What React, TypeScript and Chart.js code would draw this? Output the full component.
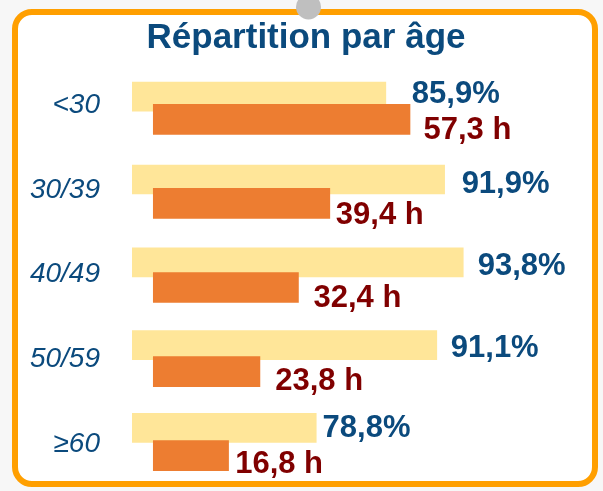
import React, { useEffect, useRef } from "react";
import { Chart, registerables } from "chart.js";

Chart.register(...registerables);

// ---- data ----
const categories = ["<30", "30/39", "40/49", "50/59", "≥60"];
const sharePct = [85.9, 91.9, 93.8, 91.1, 78.8];
const hoursPerWeek = [57.3, 39.4, 32.4, 23.8, 16.8];

// ---- label layout (offsets from bar ends, px) ----
const shareLabelDx = [26, 17, 14.5, 14, 6.3];
const shareLabelDy = [6.3, 14, 13, 11.5, 9];
const hourLabelDx = [13.5, 6, 15, 15.3, 6.6];
const hourLabelDy = [20, 20.3, 19.2, 18.7, 17.6];

const BLUE = "#0B4A7D";
const RED = "#800000";
const YELLOW = "#FFE699";
const ORANGE = "#ED7D31";
const FRAME = "#FF9F00";
const FONT = "'Liberation Sans', Arial, sans-serif";

const fmt = (v: number) => v.toFixed(1).replace(".", ",");

const framePlugin = {
  id: "frame",
  beforeDraw(chart: any) {
    const ctx = chart.ctx as CanvasRenderingContext2D;
    const W = chart.width;
    const H = chart.height;
    ctx.save();
    ctx.fillStyle = "#F7F7F7";
    ctx.fillRect(0, 0, W, H);
    ctx.beginPath();
    (ctx as any).roundRect(15, 12, 580, 472, 17);
    ctx.fillStyle = "#FFFFFF";
    ctx.fill();
    ctx.lineWidth = 6;
    ctx.strokeStyle = FRAME;
    ctx.stroke();
    ctx.beginPath();
    ctx.arc(308.5, 7, 12.5, 0, Math.PI * 2);
    ctx.fillStyle = "#BFBFBF";
    ctx.fill();
    ctx.restore();
  },
};

const valueLabelPlugin = {
  id: "valueLabels",
  afterDatasetsDraw(chart: any) {
    const ctx = chart.ctx as CanvasRenderingContext2D;
    ctx.save();
    ctx.font = `bold 31px ${FONT}`;
    ctx.textAlign = "left";
    ctx.textBaseline = "alphabetic";
    chart.data.datasets.forEach((ds: any, di: number) => {
      const meta = chart.getDatasetMeta(di);
      meta.data.forEach((bar: any, i: number) => {
        const isShare = ds.kind === "share";
        const txt = isShare ? fmt(sharePct[i]) + "%" : fmt(hoursPerWeek[i]) + " h";
        const dx = isShare ? shareLabelDx[i] : hourLabelDx[i];
        const dy = isShare ? shareLabelDy[i] : hourLabelDy[i];
        ctx.fillStyle = isShare ? BLUE : RED;
        ctx.fillText(txt, bar.x + dx, bar.y + dy);
      });
    });
    ctx.restore();
  },
};

export default function App() {
  const ref = useRef<HTMLCanvasElement | null>(null);

  useEffect(() => {
    if (!ref.current) return;
    const chart = new Chart(ref.current, {
      type: "bar",
      data: {
        datasets: [
          {
            kind: "share",
            label: "Part",
            data: sharePct.map((v, i) => ({ x: v, y: i })),
            backgroundColor: YELLOW,
            xAxisID: "x",
            yAxisID: "y",
            barThickness: 29,
            grouped: false,
            order: 2,
          } as any,
          {
            kind: "hours",
            label: "Heures",
            data: hoursPerWeek.map((v, i) => ({ x: v, y: i })),
            backgroundColor: ORANGE,
            xAxisID: "x2",
            yAxisID: "y2",
            barThickness: 30,
            grouped: false,
            order: 1,
          } as any,
        ],
      },
      options: {
        indexAxis: "y",
        responsive: false,
        animation: false,
        devicePixelRatio: 1,
        layout: { padding: { left: 9, right: 0, top: 0, bottom: 5 } },
        plugins: {
          legend: { display: false },
          tooltip: { enabled: false },
          title: {
            display: true,
            text: "Répartition par âge",
            color: BLUE,
            font: { family: FONT, size: 35, weight: "bold", lineHeight: 1.2 },
            padding: { top: 17, bottom: 4 },
          },
        },
        scales: {
          x: { type: "linear", display: false, offset: false, min: 60, max: 108.06 },
          x2: { type: "linear", display: false, offset: false, min: -4.754, max: 100.38 },
          y: { type: "linear", display: false, offset: false, reverse: true, min: -0.407, max: 4.7017 },
          y2: { type: "linear", display: false, offset: false, reverse: true, min: -0.6694, max: 4.3603 },
          yl: {
            type: "linear",
            position: "left",
            offset: false,
            reverse: true,
            min: -0.4956,
            max: 4.4956,
            grid: { display: false, drawTicks: false },
            border: { display: false },
            afterBuildTicks: (s: any) => {
              s.ticks = categories.map((_, i) => ({ value: i }));
            },
            afterFit: (s: any) => {
              s.width = 123;
              s.paddingTop = 0;
              s.paddingBottom = 0;
            },
            ticks: {
              autoSkip: false,
              padding: 32,
              color: BLUE,
              font: { family: FONT, size: 28, style: "italic" },
              callback: (v: any) => categories[Math.round(Number(v))] ?? "",
            },
          },
        },
      } as any,
      plugins: [framePlugin, valueLabelPlugin],
    });
    return () => chart.destroy();
  }, []);

  return (
    <div style={{ position: "absolute", left: 0, top: 0, width: 603, height: 491 }}>
      <canvas ref={ref} width={603} height={491} style={{ display: "block" }} />
    </div>
  );
}
